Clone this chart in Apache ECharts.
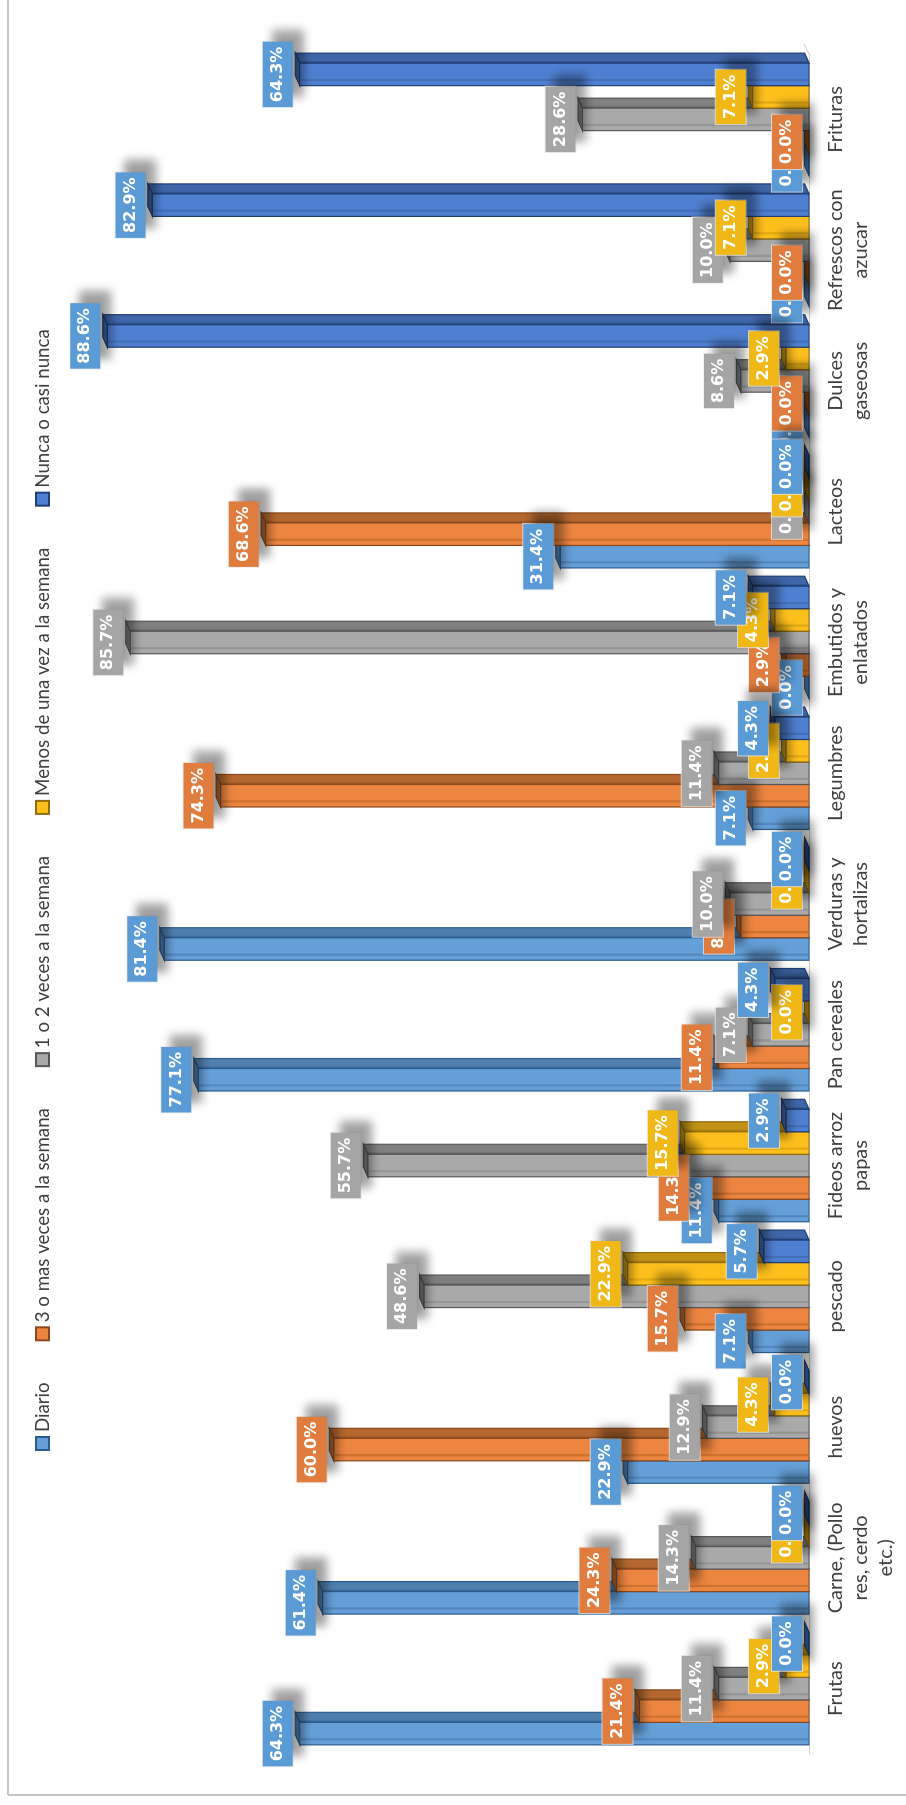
<!DOCTYPE html>
<html lang="es">
<head>
<meta charset="utf-8">
<title>Frecuencia de consumo de alimentos</title>
<style>
  html, body { margin: 0; padding: 0; width: 906px; height: 1805px; overflow: hidden; background: #fff; }
  /* The column chart is laid out landscape, then turned a quarter turn for the portrait page. */
  #chart { position: absolute; left: 0; top: 0; width: 1805px; height: 906px;
           transform-origin: 0 0; transform: translate(0, 1805px) rotate(-90deg); }
</style>
<script src="https://cdn.jsdelivr.net/npm/echarts@6/dist/echarts.min.js"></script>
</head>
<body>
<div id="chart"></div>
<script>
const categories = [
  'Frutas', 'Carne, (Pollo\nres, cerdo\netc.)', 'huevos', 'pescado', 'Fideos arroz\npapas',
  'Pan cereales', 'Verduras y\nhortalizas', 'Legumbres', 'Embutidos y\nenlatados', 'Lacteos',
  'Dulces\ngaseosas', 'Refrescos con\nazucar', 'Frituras'
];
const seriesNames = [
  'Diario', '3 o mas veces a la semana', '1 o 2 veces a la semana',
  'Menos de una vez a la semana', 'Nunca o casi nunca'
];
const diario      = [64.3, 61.4, 22.9,  7.1, 11.4, 77.1, 81.4,  7.1,  0.0, 31.4,  0.0,  0.0,  0.0];
const tresOMas    = [21.4, 24.3, 60.0, 15.7, 14.3, 11.4,  8.6, 74.3,  2.9, 68.6,  0.0,  0.0,  0.0];
const unoODos     = [11.4, 14.3, 12.9, 48.6, 55.7,  7.1, 10.0, 11.4, 85.7,  0.0,  8.6, 10.0, 28.6];
const menosDeUna  = [ 2.9,  0.0,  4.3, 22.9, 15.7,  0.0,  0.0,  2.9,  4.3,  0.0,  2.9,  7.1,  7.1];
const nunca       = [ 0.0,  0.0,  0.0,  5.7,  2.9,  4.3,  0.0,  4.3,  7.1,  0.0, 88.6, 82.9, 64.3];
const seriesValues = [diario, tresOMas, unoODos, menosDeUna, nunca];

// Column colours per series: front face, bevel stripe, side face, outline, label box.
const palette = [
  { front: '#659fd8', stripe: '#5489bd', side: '#507fae', edge: '#2b5c8f', label: '#5b9bd5' },
  { front: '#ec8540', stripe: '#d0722f', side: '#b4682f', edge: '#8a4a1e', label: '#e07d3e' },
  { front: '#a9a9a9', stripe: '#959595', side: '#808080', edge: '#585858', label: '#a5a5a5' },
  { front: '#fdbf1c', stripe: '#e3a915', side: '#c29216', edge: '#8f6c0f', label: '#f0b817' },
  { front: '#4f7fd0', stripe: '#4470b8', side: '#3f66a8', edge: '#213f75', label: '#5b9bd5' }
];

const GROUP_SHARE = 0.86;   // part of a category band filled by its five columns
const DEPTH_X = 10;         // oblique depth of the columns
const DEPTH_Y = 4.5;

function drawColumn(params, api) {
  const c = palette[params.seriesIndex];
  const cat = api.value(0);
  const val = api.value(1);
  const base = api.coord([cat, 0]);
  const tip = api.coord([cat, val]);
  const band = api.size([1, 0])[0];
  const w = band * GROUP_SHARE / 5;
  const x0 = base[0] - band * GROUP_SHARE / 2 + params.seriesIndex * w;
  const x1 = x0 + w;
  const yTip = tip[1];
  const yBase = base[1];

  const sideFill = new echarts.graphic.LinearGradient(0, 0, 1, 0, [
    { offset: 0, color: c.edge },
    { offset: 0.3, color: c.side },
    { offset: 1, color: c.side }
  ]);
  const stroke = { stroke: c.edge, lineWidth: 1.2 };
  const children = [
    { type: 'polygon', shape: { points: [[x1, yTip], [x1 + DEPTH_X, yTip - DEPTH_Y], [x1 + DEPTH_X, yBase - DEPTH_Y], [x1, yBase]] },
      style: Object.assign({ fill: sideFill }, stroke) },
    { type: 'polygon', shape: { points: [[x0, yTip], [x0 + DEPTH_X, yTip - DEPTH_Y], [x1 + DEPTH_X, yTip - DEPTH_Y], [x1, yTip]] },
      style: Object.assign({ fill: c.side }, stroke) },
    { type: 'rect', shape: { x: x0, y: yTip, width: w, height: yBase - yTip },
      style: Object.assign({ fill: c.front }, stroke) },
    { type: 'rect', shape: { x: x0 + w * 0.2, y: yTip + 1, width: w * 0.1, height: Math.max(yBase - yTip - 2, 0) },
      style: { fill: c.stripe } },
    { type: 'text', z2: 100,
      style: {
        text: val.toFixed(1) + '%',
        x: x0 + w / 2,
        y: yTip - 7,
        align: 'center',
        verticalAlign: 'bottom',
        fill: '#ffffff',
        font: 'bold 16px "DejaVu Sans"',
        backgroundColor: c.label,
        borderColor: 'rgba(235,235,235,0.75)',
        borderWidth: 1,
        padding: [7, 5, 7, 5],
        shadowColor: 'rgba(0,0,0,0.38)',
        shadowBlur: 9,
        shadowOffsetX: 11,
        shadowOffsetY: 10
      } }
  ];
  return { type: 'group', children: children };
}

const chart = echarts.init(document.getElementById('chart'), null, { renderer: 'canvas' });
chart.setOption({
  animation: false,
  backgroundColor: '#ffffff',
  grid: { left: 51, width: 1700, top: 17, height: 792 },
  xAxis: {
    type: 'category',
    data: categories,
    axisTick: { show: false },
    axisLine: { lineStyle: { color: '#d0d0d0', width: 1 } },
    axisLabel: {
      interval: 0,
      margin: 14,
      color: '#3f3f3f',
      fontFamily: 'Lato',
      fontSize: 20,
      lineHeight: 25,
      align: 'center'
    }
  },
  yAxis: { type: 'value', min: 0, max: 100, show: false, splitLine: { show: false } },
  legend: {
    top: 28,
    left: 349,
    icon: 'rect',
    itemWidth: 13,
    itemHeight: 13,
    itemGap: 41,
    data: seriesNames,
    textStyle: { color: '#3f3f3f', fontFamily: 'Lato', fontSize: 18.7 }
  },
  graphic: [
    // Outer frame of the chart area.
    { type: 'line', silent: true, shape: { x1: 10, y1: 8, x2: 1805, y2: 8 }, style: { stroke: '#c4c4c4', lineWidth: 2 } },
    { type: 'line', silent: true, shape: { x1: 10, y1: 8, x2: 10, y2: 906 }, style: { stroke: '#c4c4c4', lineWidth: 2 } },
    // Receding end of the chart floor.
    { type: 'line', silent: true, shape: { x1: 1751, y1: 809, x2: 1761, y2: 804 }, style: { stroke: '#d0d0d0', lineWidth: 1 } }
  ],
  series: seriesNames.map((name, s) => ({
    name: name,
    type: 'custom',
    silent: true,
    coordinateSystem: 'cartesian2d',
    renderItem: drawColumn,
    encode: { x: 0, y: 1 },
    itemStyle: { color: palette[s].front, borderColor: palette[s].edge, borderWidth: 1.5 },
    data: seriesValues[s].map((v, i) => [i, v])
  }))
});
</script>
</body>
</html>
